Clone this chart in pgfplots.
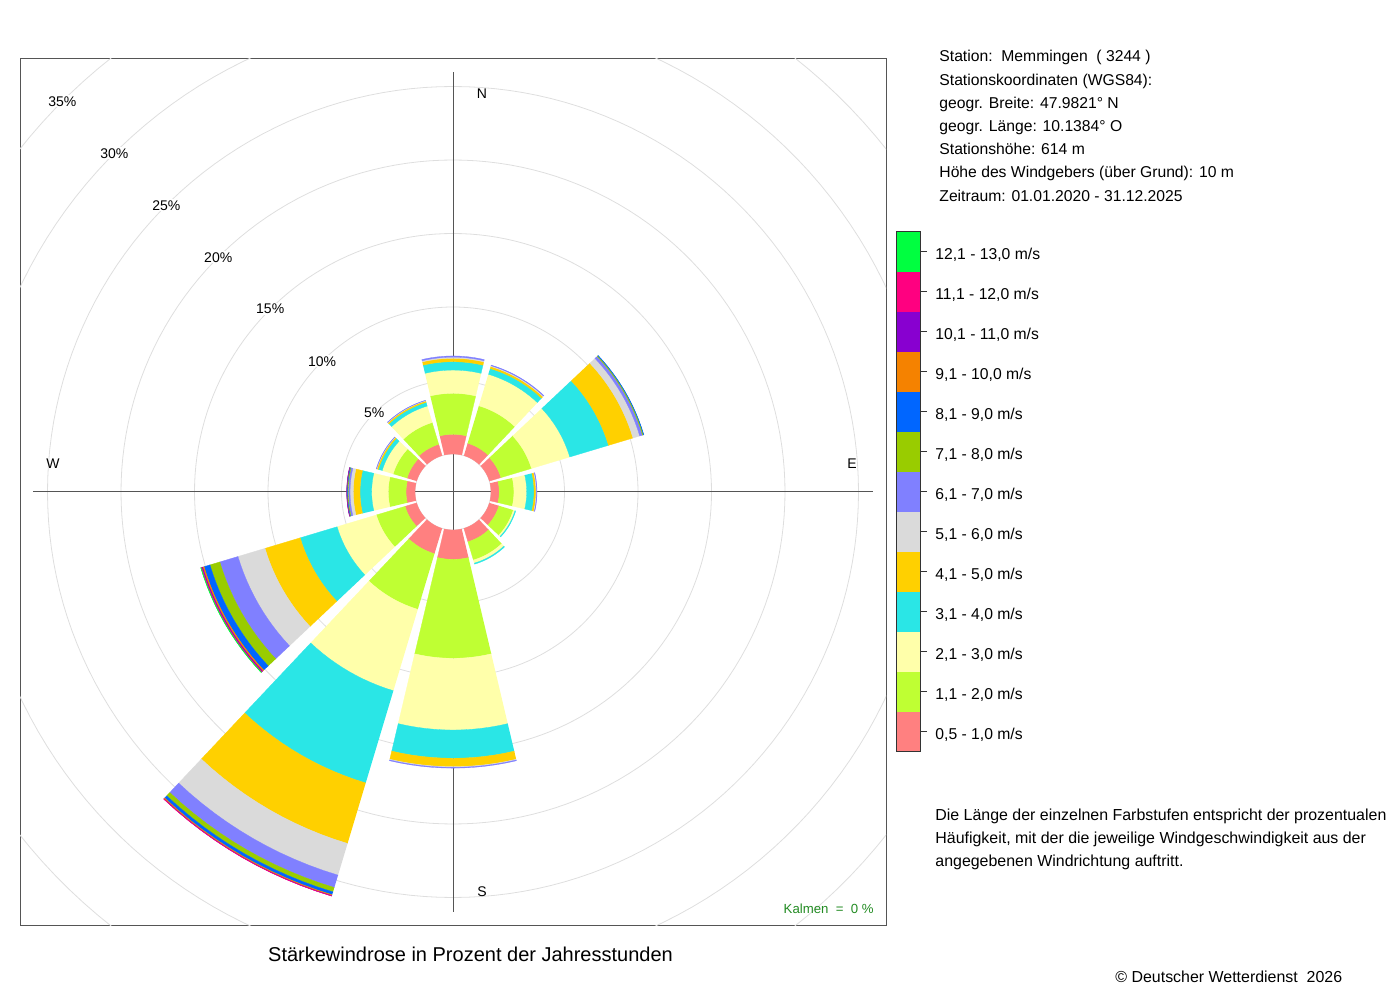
\documentclass[border=0pt]{standalone}
\usepackage{fontspec}
\setmainfont{Liberation Sans}
\usepackage{pgfplots}
\usepackage{pgfplotstable}
\pgfplotsset{compat=1.18}

\definecolor{c1}{HTML}{FF8080}
\definecolor{c2}{HTML}{BFFF33}
\definecolor{c3}{HTML}{FFFFAA}
\definecolor{c4}{HTML}{2AE6E6}
\definecolor{c5}{HTML}{FFD000}
\definecolor{c6}{HTML}{DADADA}
\definecolor{c7}{HTML}{8080FF}
\definecolor{c8}{HTML}{99CC00}
\definecolor{c9}{HTML}{0066FF}
\definecolor{c10}{HTML}{F58200}
\definecolor{c11}{HTML}{8800D0}
\definecolor{c12}{HTML}{FF0080}
\definecolor{c13}{HTML}{00FF40}
\definecolor{ringcol}{HTML}{DEDEDE}
\definecolor{linecol}{HTML}{555555}
\definecolor{kalm}{HTML}{228B22}

% percentage of hours per direction (deg) and speed class
\pgfplotstableread{
dir  c1   c2   c3   c4   c5   c6   c7   c8   c9   c10  c11  c12  c13
0    1.34 2.79 1.58 0.57 0.23 0.08 0.08 0    0    0    0    0    0
30   0.88 2.66 2.24 0.41 0.14 0.06 0.04 0    0    0    0    0    0
60   0.82 2.17 2.72 2.75 1.74 0.48 0.20 0.07 0.02 0    0    0    0
90   0.56 1.00 0.87 0.50 0.13 0.04 0.03 0    0    0    0    0    0
120  0.68 1.02 0.12 0.05 0    0    0    0    0    0    0    0    0
150  0.95 1.30 0.22 0.07 0    0    0    0    0    0    0    0    0
180  2.00 6.73 4.88 1.92 0.57 0.05 0.05 0    0    0    0    0    0
210  1.80 3.95 5.78 6.55 4.30 2.25 0.88 0.31 0.20 0.07 0.02 0.01 0
240  0.82 2.04 2.79 2.62 2.50 1.92 1.29 0.70 0.42 0.10 0.06 0.05 0.03
270  0.61 1.21 1.13 0.79 0.46 0.22 0.12 0.05 0.04 0.01 0.01 0    0
300  0.68 0.99 0.78 0.27 0.10 0.03 0.02 0    0    0    0    0    0
330  0.80 1.55 1.17 0.26 0.10 0.03 0.02 0    0    0    0    0    0
}\windtable

\def\hole{2.585}
\def\halfw{13.3}

\newcommand\mkwedge[3]{%
  \gdef\wcoords{}%
  \foreach \k in {0,...,12}{%
    \pgfmathsetmacro\wa{#1-\halfw+2*\halfw*\k/12}%
    \pgfmathsetmacro\wx{#2*sin(\wa)}%
    \pgfmathsetmacro\wy{#2*cos(\wa)}%
    \xdef\wcoords{\wcoords(\wx,\wy)}%
  }%
  \foreach \k in {0,...,12}{%
    \pgfmathsetmacro\wa{#1+\halfw-2*\halfw*\k/12}%
    \pgfmathsetmacro\wx{#3*sin(\wa)}%
    \pgfmathsetmacro\wy{#3*cos(\wa)}%
    \xdef\wcoords{\wcoords(\wx,\wy)}%
  }%
}
\newcommand\mkring[1]{%
  \gdef\wcoords{}%
  \foreach \k in {0,...,180}{%
    \pgfmathsetmacro\wx{#1*sin(2*\k)}%
    \pgfmathsetmacro\wy{#1*cos(2*\k)}%
    \xdef\wcoords{\wcoords(\wx,\wy)}%
  }%
}
\newcommand\legfont{\fontsize{7.85}{10}\selectfont}
\newcommand\legcell[2]{%
  \fill[c#1] (448pt,{124pt+20pt*(#1-1)}) rectangle (460.25pt,{124pt+20pt*#1});
  \draw[black!80, line width=0.5pt] (460.25pt,{124pt+20pt*(#1-1)+10pt}) -- ++(3pt,0);
  \node[anchor=base west, font=\legfont, inner sep=0pt] at (467.5pt,{124pt+20pt*(#1-1)+10pt-3.6pt}) {#2};
}
\newcommand\rlab{\fontsize{7}{8}\selectfont}

\begin{document}
\begin{tikzpicture}
\useasboundingbox (0,0) rectangle (700pt,500pt);
\begin{axis}[
  at={(10pt,37.5pt)}, anchor=south west,
  width=433pt, height=433pt, scale only axis,
  xmin=-29.456, xmax=29.456, ymin=-29.456, ymax=29.456,
  ticks=none,
  axis line style={linecol, line width=0.5pt},
]
% grid rings
\pgfplotsforeachungrouped \r in {0,...,7}{%
  \pgfmathsetmacro\rr{\hole+5*\r}%
  \mkring{\rr}%
  \edef\doplot{\noexpand\addplot[ringcol, line width=0.4pt] coordinates {\wcoords};}%
  \doplot
}
% cross
\addplot[linecol, line width=0.5pt] coordinates {(0,-28.57) (0,28.57)};
\addplot[linecol, line width=0.5pt] coordinates {(-28.57,0) (28.57,0)};
% wedges
\def\cum{0}%
\pgfplotsforeachungrouped \nn in {0,...,155}{%
  \pgfmathtruncatemacro\row{floor(\nn/13)}%
  \pgfmathtruncatemacro\col{\nn-13*\row+1}%
  \ifnum\col=1 \def\cum{0}\fi
  \pgfplotstablegetelem{\row}{dir}\of\windtable
  \let\ang\pgfplotsretval
  \edef\colname{c\col}%
  \pgfplotstablegetelem{\row}{\colname}\of\windtable
  \let\val\pgfplotsretval
  \pgfmathsetmacro\rA{\hole+\cum}%
  \pgfmathsetmacro\cumB{\cum+\val}%
  \pgfmathsetmacro\rB{\hole+\cumB}%
  \ifdim\val pt>0pt
    \mkwedge{\ang}{\rA}{\rB}%
    \edef\doplot{\noexpand\addplot[draw=c\col, line width=0.15pt, fill=c\col] coordinates {\wcoords};}%
    \doplot
  \fi
  \let\cum\cumB
}
% ring labels
\begin{scope}[every node/.style={font=\rlab, fill=white, inner sep=0.6pt}]
\node at (axis cs:-5.363,5.363) {5\%};
\node at (axis cs:-8.899,8.899) {10\%};
\node at (axis cs:-12.435,12.435) {15\%};
\node at (axis cs:-15.970,15.970) {20\%};
\node at (axis cs:-19.506,19.506) {25\%};
\node at (axis cs:-23.041,23.041) {30\%};
\node at (axis cs:-26.577,26.577) {35\%};
\end{scope}
% compass letters
\node[font=\rlab] at (axis cs:1.97,27.07) {N};
\node[font=\rlab] at (axis cs:1.97,-27.21) {S};
\node[font=\rlab] at (axis cs:-27.21,1.9) {W};
\node[font=\rlab] at (axis cs:27.14,1.9) {E};
\end{axis}

% Kalmen
\node[anchor=base east, inner sep=0pt, text=kalm, font=\fontsize{6.6}{8}\selectfont] at (437pt,43.4pt) {Kalmen\ \ =\ \ 0 \%};
% title
\node[anchor=base, inner sep=0pt, font=\fontsize{10}{12}\selectfont] at (235.25pt,19.5pt) {Stärkewindrose in Prozent der Jahresstunden};

% station info
\begin{scope}[every node/.style={anchor=base west, inner sep=0pt, font=\fontsize{7.85}{10}\selectfont}]
\node at (469.5pt,469pt) {Station:\ \ Memmingen\ \ ( 3244 )};
\node at (469.5pt,457.4pt) {Stationskoordinaten (WGS84):};
\node at (469.5pt,445.8pt) {geogr. Breite: 47.9821° N};
\node at (469.5pt,434.2pt) {geogr. Länge: 10.1384° O};
\node at (469.5pt,422.6pt) {Stationshöhe: 614 m};
\node at (469.5pt,411pt) {Höhe des Windgebers (über Grund): 10 m};
\node at (469.5pt,399.4pt) {Zeitraum: 01.01.2020 - 31.12.2025};
\end{scope}
\begin{scope}[every node/.style={anchor=base west, inner sep=0pt, font=\fontsize{7.97}{10}\selectfont}]
% description
\node at (467.5pt,89.6pt) {Die Länge der einzelnen Farbstufen entspricht der prozentualen};
\node at (467.5pt,78.1pt) {Häufigkeit, mit der die jeweilige Windgeschwindigkeit aus der};
\node at (467.5pt,66.6pt) {angegebenen Windrichtung auftritt.};
% copyright
\node at (557.5pt,8.8pt) {© Deutscher Wetterdienst\ \ 2026};
\end{scope}

% legend colour bar
\legcell{1}{0,5 - 1,0 m/s}
\legcell{2}{1,1 - 2,0 m/s}
\legcell{3}{2,1 - 3,0 m/s}
\legcell{4}{3,1 - 4,0 m/s}
\legcell{5}{4,1 - 5,0 m/s}
\legcell{6}{5,1 - 6,0 m/s}
\legcell{7}{6,1 - 7,0 m/s}
\legcell{8}{7,1 - 8,0 m/s}
\legcell{9}{8,1 - 9,0 m/s}
\legcell{10}{9,1 - 10,0 m/s}
\legcell{11}{10,1 - 11,0 m/s}
\legcell{12}{11,1 - 12,0 m/s}
\legcell{13}{12,1 - 13,0 m/s}
\draw[black!80, line width=0.5pt] (448pt,124pt) rectangle (460.25pt,384pt);
\end{tikzpicture}
\end{document}
